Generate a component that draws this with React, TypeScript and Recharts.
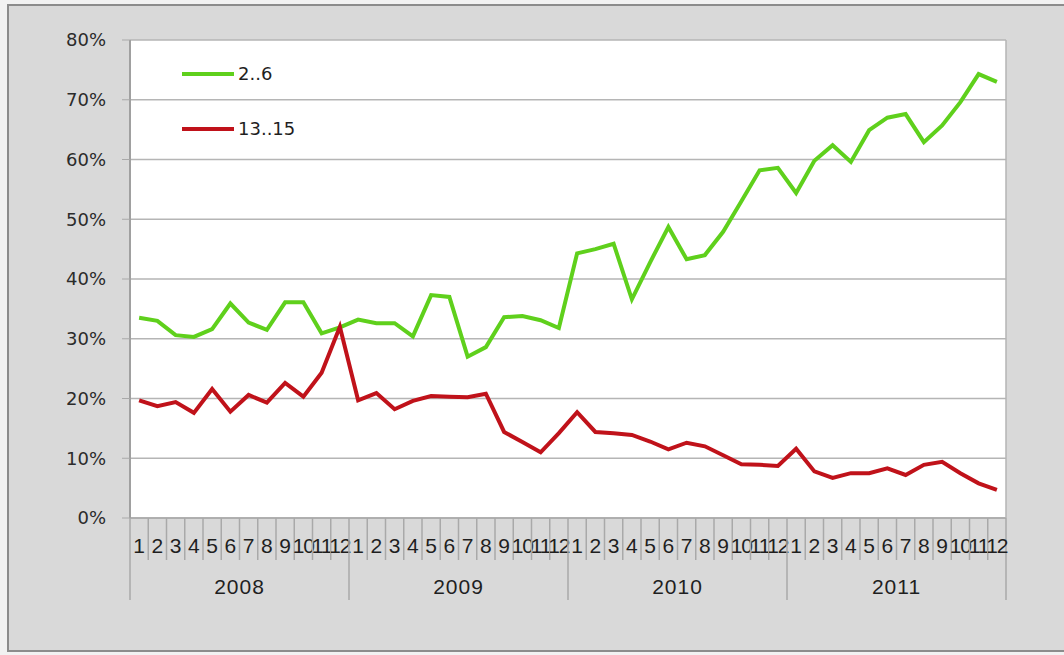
import { CartesianGrid, Legend, Line, LineChart, XAxis, YAxis } from "recharts";

const YEARS = ["2008", "2009", "2010", "2011"];
const MONTHS = ["1", "2", "3", "4", "5", "6", "7", "8", "9", "10", "11", "12"];

// share in percent, one value per month from 2008-01 to 2011-12
const SHARE_2_6 = [
  33.5, 33.0, 30.6, 30.3, 31.6, 35.9, 32.7, 31.5, 36.1, 36.1, 30.9, 31.9,
  33.2, 32.6, 32.6, 30.4, 37.3, 37.0, 27.0, 28.6, 33.6, 33.8, 33.1, 31.8,
  44.3, 45.0, 45.9, 36.6, 42.8, 48.7, 43.3, 44.0, 47.9, 53.0, 58.2, 58.6,
  54.4, 59.8, 62.4, 59.6, 64.9, 67.0, 67.6, 62.9, 65.7, 69.6, 74.3, 73.0,
];
const SHARE_13_15 = [
  19.7, 18.7, 19.4, 17.6, 21.6, 17.8, 20.6, 19.3, 22.6, 20.3, 24.3, 32.0,
  19.7, 20.9, 18.2, 19.6, 20.4, 20.3, 20.2, 20.8, 14.4, 12.7, 11.0, 14.2,
  17.7, 14.4, 14.2, 13.9, 12.8, 11.5, 12.6, 12.0, 10.5, 9.0, 8.9, 8.7,
  11.6, 7.8, 6.7, 7.5, 7.5, 8.3, 7.2, 8.9, 9.4, 7.5, 5.8, 4.7,
];
const Y_TICKS = [0, 10, 20, 30, 40, 50, 60, 70, 80];

const SERIES = [
  { key: "s26", name: "2..6", color: "#5fd01c" },
  { key: "s1315", name: "13..15", color: "#c0121a" },
];

const W = 1064;
const H = 655;
const PLOT_LEFT = 130;
const PLOT_RIGHT = 1006;
const PLOT_TOP = 40;
const PLOT_BOTTOM = 518;
const STEP = (PLOT_RIGHT - PLOT_LEFT) / (YEARS.length * MONTHS.length);
const HALF = STEP / 2;
const FONT = "'Liberation Sans', Arial, sans-serif";
const TEXT = "#1f1f1f";

const data = YEARS.flatMap((year, yi) =>
  MONTHS.map((month, mi) => {
    const i = yi * MONTHS.length + mi;
    return {
      period: `${year}-${month}`,
      year,
      month,
      s26: SHARE_2_6[i],
      s1315: SHARE_13_15[i],
    };
  })
);

function MonthTick(props: any) {
  const { x, index } = props;
  const row = data[index];
  if (!row) return null;
  const left = x - HALF;
  const firstOfYear = index % MONTHS.length === 0;
  const isLast = index === data.length - 1;
  return (
    <g>
      <line
        x1={left}
        x2={left}
        y1={PLOT_BOTTOM}
        y2={firstOfYear ? 600 : 560}
        stroke="#a9a9a9"
        strokeWidth={1.5}
      />
      {isLast ? (
        <line
          x1={x + HALF}
          x2={x + HALF}
          y1={PLOT_BOTTOM}
          y2={600}
          stroke="#a9a9a9"
          strokeWidth={1.5}
        />
      ) : null}
      <text
        x={x}
        y={553}
        textAnchor="middle"
        fontSize={21}
        fontFamily={FONT}
        letterSpacing={row.month.length > 1 ? -1 : 0}
        fill={TEXT}
      >
        {row.month}
      </text>
      {index % MONTHS.length === 6 ? (
        <text
          x={left}
          y={594}
          textAnchor="middle"
          fontSize={21}
          fontFamily={FONT}
          letterSpacing={1}
          fill={TEXT}
        >
          {row.year}
        </text>
      ) : null}
    </g>
  );
}

function ChartLegend() {
  return (
    <div style={{ fontFamily: "'DejaVu Sans', sans-serif", fontSize: 18 }}>
      {SERIES.map((s) => (
        <div
          key={s.key}
          style={{ display: "flex", alignItems: "center", height: 55 }}
        >
          <span
            style={{
              display: "inline-block",
              width: 52,
              height: 4,
              background: s.color,
              marginRight: 4,
            }}
          />
          <span style={{ color: TEXT }}>{s.name}</span>
        </div>
      ))}
    </div>
  );
}

export default function App() {
  return (
    <div
      style={{
        position: "fixed",
        left: 0,
        top: 0,
        width: W,
        height: H,
        background: "#f2f2f2",
        overflow: "hidden",
      }}
    >
      <div
        style={{
          position: "absolute",
          left: 7,
          top: 4,
          width: W,
          height: 644,
          background: "#d9d9d9",
          border: "2px solid #8c8c8c",
        }}
      />
      <div style={{ position: "absolute", left: 0, top: 0 }}>
        <LineChart
          width={W}
          height={H}
          data={data}
          margin={{
            top: PLOT_TOP,
            left: PLOT_LEFT - 60,
            right: W - PLOT_RIGHT - 1,
            bottom: H - PLOT_BOTTOM - 80,
          }}
        >
          <CartesianGrid
            vertical={false}
            fill="#ffffff"
            stroke="#b5b5b5"
            strokeWidth={1.5}
          />
          <XAxis
            dataKey="period"
            interval={0}
            height={80}
            padding={{ left: HALF, right: HALF }}
            tick={<MonthTick />}
            tickLine={false}
            axisLine={{ stroke: "#a9a9a9", strokeWidth: 1.5 }}
          />
          <YAxis
            width={60}
            domain={[0, 80]}
            ticks={Y_TICKS}
            tickFormatter={(v: number) => `${v}%`}
            tickSize={8}
            tickMargin={16}
            tick={{
              fontSize: 18,
              fontFamily: "'DejaVu Sans', sans-serif",
              fill: "#2b2b2b",
            }}
            tickLine={{ stroke: "#a9a9a9" }}
            axisLine={{ stroke: "#a0a0a0", strokeWidth: 2 }}
          />
          <YAxis
            yAxisId="right"
            orientation="right"
            width={1}
            tick={false}
            tickLine={false}
            axisLine={{ stroke: "#b5b5b5", strokeWidth: 1.5 }}
          />
          <Legend
            layout="vertical"
            align="center"
            verticalAlign="middle"
            content={<ChartLegend />}
            wrapperStyle={{ left: 182, top: 46, width: "auto" }}
          />
          {SERIES.map((s) => (
            <Line
              key={s.key}
              dataKey={s.key}
              name={s.name}
              stroke={s.color}
              strokeWidth={4}
              dot={false}
              activeDot={false}
              isAnimationActive={false}
            />
          ))}
        </LineChart>
      </div>
    </div>
  );
}
